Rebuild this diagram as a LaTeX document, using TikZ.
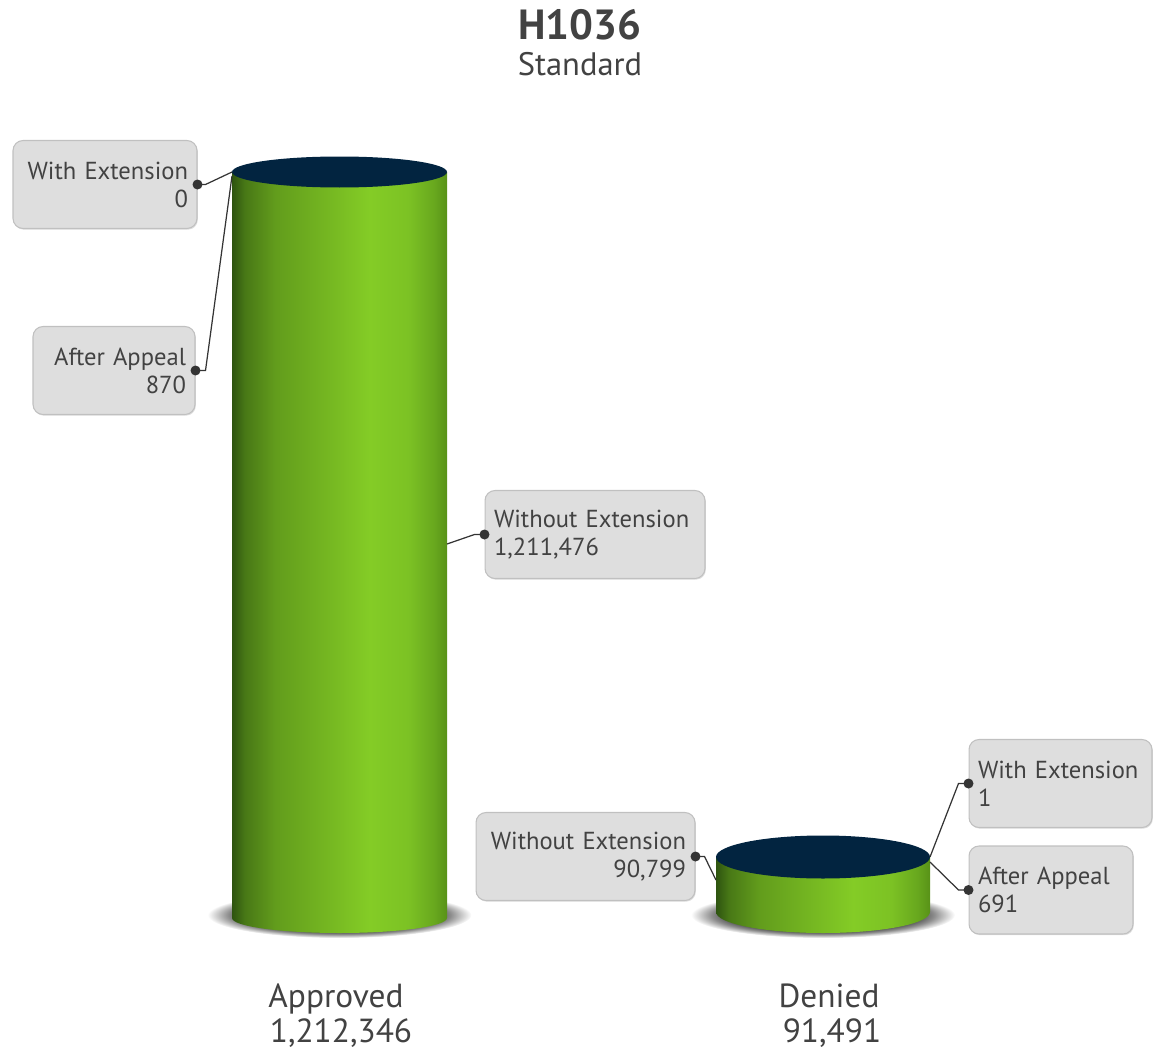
\documentclass[tikz,border=0pt]{standalone}
\usepackage{fontspec}
\setmainfont{PT Sans}
\usetikzlibrary{shadows}

\definecolor{navy}{RGB}{2,36,64}
\definecolor{boxfill}{RGB}{222,222,222}
\definecolor{boxline}{RGB}{192,192,192}
\definecolor{txt}{RGB}{66,66,66}
\definecolor{linegray}{RGB}{52,52,52}
\definecolor{gA}{RGB}{46,84,16}
\definecolor{gB}{RGB}{72,120,22}
\definecolor{gC}{RGB}{98,156,28}
\definecolor{gD}{RGB}{132,204,38}
\definecolor{gE}{RGB}{124,194,36}
\definecolor{gF}{RGB}{104,168,30}
\definecolor{gG}{RGB}{88,146,24}

\pgfdeclarehorizontalshading{cylgreen}{100bp}{color(0bp)=(gA); color(25bp)=(gA);
  color(28bp)=(gB); color(35bp)=(gC); color(57bp)=(gD); color(66bp)=(gE);
  color(72bp)=(gF); color(75bp)=(gG); color(100bp)=(gG)}
\pgfdeclareradialshading{cylshadow}{\pgfpoint{0bp}{0bp}}{color(0bp)=(black!65);
  color(19bp)=(black!62); color(21bp)=(black!45); color(25bp)=(white); color(50bp)=(white)}

\tikzset{
  lbl/.style={draw=boxline, fill=boxfill, rounded corners=2mm, line width=0.6pt,
    text=txt, inner xsep=0.18cm, minimum height=1.76cm,
    font=\fontsize{14}{16}\selectfont,
    drop shadow={shadow xshift=0.5pt, shadow yshift=-0.7pt, opacity=0.25}},
  conn/.style={draw=linegray, line width=0.7pt},
  cat/.style={text=txt, anchor=base, font=\fontsize{19}{20}\selectfont},
}

\begin{document}
\begin{tikzpicture}[x=0.02cm, y=0.02cm]
    \useasboundingbox (0,0) rectangle (1153,-1051);
    \node[text=txt, anchor=base, font=\bfseries\fontsize{24}{28}\selectfont] (title) at (580,-40) {H1036};
    \node[text=txt, anchor=base, font=\fontsize{18.5}{22}\selectfont] (subtitle) at (580,-76) {Standard};
    % shadows under the bars
    \shade[shading=cylshadow] (339.5,-915) ellipse [x radius=132, y radius=23];
    \shade[shading=cylshadow] (823,-915) ellipse [x radius=132, y radius=23];
    % Approved
    \shade[shading=cylgreen] (232,-172) -- (232,-918) arc [start angle=180, end angle=360, x radius=107.5, y radius=15] -- (447,-172) -- cycle;
    \fill[navy] (339.5,-172) ellipse [x radius=107.5, y radius=15.5];
    % Denied
    \shade[shading=cylgreen] (716,-857) -- (716,-912) arc [start angle=180, end angle=360, x radius=107, y radius=21] -- (930,-857) -- cycle;
    \fill[navy] (823,-857) ellipse [x radius=107, y radius=21.5];
    \coordinate (apptopl) at (232,-172);
    \coordinate (apptopl2) at (232,-176);
    \coordinate (appside) at (447,-544);
    \coordinate (denside) at (716,-880);
    \coordinate (dentopr) at (930,-857);
    \coordinate (dentopr2) at (930,-862);
    \node[lbl, text width=3.32cm, align=right] (appwith) at (105,-184.5) {With Extension\\0};
    \node[lbl, text width=2.88cm, align=right] (appappeal) at (114,-370.5) {After Appeal\\870};
    \node[lbl, text width=4.04cm, align=left] (appwithout) at (595,-534.5) {Without Extension\\1,211,476};
    \node[lbl, text width=4.02cm, align=right] (denwithout) at (585.5,-856.5) {Without Extension\\90,799};
    \node[lbl, text width=3.30cm, align=left] (denwith) at (1060.5,-783.5) {With Extension\\1};
    \node[lbl, text width=2.92cm, align=left] (denappeal) at (1051,-890) {After Appeal\\691};
    \draw[conn] (appwith.east) -- ++(8,0) -- (apptopl);
    \draw[conn] (appappeal.east) -- ++(10,0) -- (apptopl2);
    \draw[conn] (appwithout.west) -- ++(-10,0) -- (appside);
    \draw[conn] (denwithout.east) -- ++(9,0) -- (denside);
    \draw[conn] (denwith.west) -- ++(-10,0) -- (dentopr);
    \draw[conn] (denappeal.west) -- ++(-10,0) -- (dentopr2);
    \foreach \n/\a in {appwith/east, appappeal/east, appwithout/west, denwithout/east, denwith/west, denappeal/west}
      \fill[linegray] (\n.\a) circle (5);
    \node[cat] (appname) at (336,-1007) {Approved};
    \node[cat] (appval) at (341,-1042) {1,212,346};
    \node[cat] (denname) at (829,-1007) {Denied};
    \node[cat] (denval) at (832,-1042) {91,491};
\end{tikzpicture}
\end{document}
